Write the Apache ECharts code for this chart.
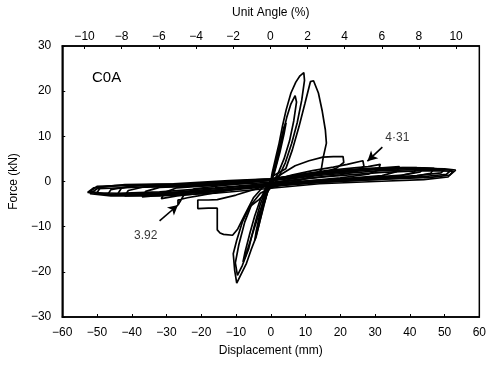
<!DOCTYPE html>
<html><head><meta charset="utf-8">
<script src="https://cdn.jsdelivr.net/npm/echarts@6/dist/echarts.min.js"></script>
<style>html,body{margin:0;padding:0;background:#fff}#c{width:489px;height:367px}</style>
</head><body><div id="c"></div>
<script>
// tick labels
const xTicks = [-60,-50,-40,-30,-20,-10,0,10,20,30,40,50,60];
const yTicks = [-30,-20,-10,0,10,20,30];
const angleTicks = [-10,-8,-6,-4,-2,0,2,4,6,8,10];
const specimen = "C0A";
// hysteresis cycles: [displacement (mm), force (kN)]
const c1 = [[0,0],[0.8,2],[1.6,4.2],[2,5.2],[1.5,3.6],[0.4,0.8],[-0.8,-1.8],[-1.6,-4],[-2,-5],[-1.5,-3.4],[-0.4,-0.6],[0,0]];
const c2 = [[0,0],[1.2,3.5],[2.6,8],[3.8,12],[4.4,13],[3.8,10.5],[2.6,6.4],[1,1.8],[-0.6,-1.6],[-2,-5],[-3.4,-9.6],[-4.6,-13],[-4.2,-11],[-3,-6.6],[-1.4,-2],[0,0]];
const c2b = [[0,0],[1,2.6],[2.2,6.4],[3.4,10.4],[4.6,14.2],[5.8,17.2],[7,19],[7.4,17.6],[6.6,13.4],[5.4,9],[3.8,5],[2,1.6],[0.2,-0.6],[-1.6,-3.4],[-3.6,-7.6],[-5.6,-12.4],[-7.2,-16.4],[-8,-17.8],[-7.4,-15.6],[-6,-11.4],[-4.6,-7.6],[-3,-4],[-1.2,-1],[0,0]];
const c3 = [[0,0],[0.4,1.9],[1.4,5.2],[2.4,8.5],[3.4,12.4],[4.4,15.8],[5.8,19.6],[7.2,22],[8.4,23.4],[9.5,24.1],[9.7,22.4],[8.9,18],[7.6,13],[6,8.4],[4.2,4.2],[2.4,1.2],[0.8,-0.8],[-1,-2.2],[-3.4,-4],[-6.1,-5.6],[-8.2,-9],[-9.8,-13],[-10.8,-16],[-10.4,-19.6],[-9.8,-22.5],[-8.6,-20.6],[-7,-18.1],[-5.6,-15],[-4.2,-12.2],[-3.2,-9],[-2.3,-6.3],[-1.2,-3],[-0.4,-0.4],[0.6,1.2]];
const c4 = [[0.6,1.2],[2.4,2],[4.3,2.8],[6.2,7],[8.1,12.1],[9.8,17.2],[11.4,22.1],[12.3,22.3],[13.7,19.6],[14.8,15.6],[15.7,11.4],[16.2,11],[16,8.5],[15.1,5.4],[14.5,2.5],[12,1.2],[8,0.2],[4,-0.6],[0,-1.4],[-3,-2.6],[-5.5,-5],[-7.5,-9],[-9.2,-14],[-10.2,-18],[-9.6,-20.8],[-8.2,-18.6],[-6.4,-15],[-4.8,-10],[-3,-5],[-1.2,-1.5],[0,0]];
const c5 = [[0,0],[3,1.6],[7,3.5],[11,4.6],[15,5.4],[18,5.5],[20.8,5.5],[21,4.2],[19,3],[16,2.2],[12,1.4],[6,0.6],[0,-0.6],[-5,-1.8],[-10,-3],[-15.4,-4],[-18,-4.1],[-21,-4.1],[-21,-6],[-18,-5.9],[-15.4,-5.9],[-15.4,-8.5],[-15.4,-10.7],[-14.6,-11.4],[-13.6,-11.7],[-11,-11.9],[-9.5,-10.5],[-7.5,-7.4],[-5,-3.6],[-2,-1],[0,0]];
const c6 = [[0,0],[6,1.4],[12,2.4],[18,3.2],[22,3.8],[26.5,4.6],[26.8,3.4],[24.5,2.2],[20,1.5],[14,1],[7,0.3],[0,-0.5],[-7,-1.3],[-14,-2.2],[-21,-3.2],[-24,-3.6],[-26.7,-4.1],[-26.7,-5.2],[-25,-3],[-22,-1.6],[-15,-1],[-7,-0.3],[0,0.4]];
const c7 = [[0,0.4],[8,1.5],[16,2.4],[24,3],[28,3.3],[31.5,3.8],[31,2.6],[28,1.6],[20,0.8],[10,0.1],[0,-0.6],[-10,-1.6],[-20,-2.6],[-27,-3.2],[-31.5,-3.8],[-30.5,-2.4],[-27,-1.4],[-18,-0.9],[-8,-0.2],[0,0.5]];
const c8 = [[0,0.5],[10,1.5],[20,2.4],[30,2.9],[37,3.3],[36.2,2.2],[32,1.3],[22,0.7],[10,0],[0,-0.7],[-12,-1.7],[-24,-2.6],[-32,-3.1],[-37,-3.4],[-36,-2.2],[-32,-1.3],[-20,-0.9],[-8,-0.2],[0,0.4]];
const c9 = [[0,0.4],[12,1.6],[24,2.5],[34,3],[42,3.1],[41.2,2],[36,1.1],[25,0.6],[12,0],[0,-0.8],[-14,-1.9],[-28,-2.7],[-37,-3],[-42,-3.2],[-41,-2],[-36,-1.1],[-24,-0.9],[-10,-0.2],[0,0.3]];
const c10 = [[0,0.3],[14,1.6],[28,2.6],[40,3],[47,2.9],[46,1.8],[40,1],[28,0.5],[14,-0.1],[0,-0.9],[-16,-2],[-32,-2.8],[-42,-3],[-47,-3],[-46,-1.8],[-40,-1],[-26,-0.8],[-12,-0.2],[0,0.3]];
const c11 = [[0,0.3],[15,1.7],[30,2.6],[42,2.9],[50,2.8],[53.2,2.5],[51.5,1.4],[46,0.9],[32,0.5],[16,-0.1],[0,-0.9],[-18,-2],[-34,-2.7],[-46,-2.9],[-52.7,-2.4],[-51,-1.4],[-45,-0.9],[-30,-0.8],[-15,-0.3],[0,0.2]];
const c12 = [[0,0.2],[16,1.5],[32,2.4],[44,2.7],[52,2.6],[50.5,1.6],[44,1.1],[30,0.4],[14,-0.2],[0,-1.1],[-16,-2.2],[-32,-2.9],[-46,-3],[-52,-2.2],[-50,-1.1],[-40,-0.8],[-24,-0.6],[-10,0],[0,0.3]];
const c13 = [[0,0.6],[12,1.9],[26,2.8],[38,3.1],[44,3],[43,2.1],[38,1.4],[26,0.8],[12,0.2],[0,-0.5],[-14,-1.5],[-28,-2.4],[-38,-2.8],[-44,-2.7],[-43,-1.5],[-38,-0.8],[-24,-0.6],[-10,0.1],[0,0.6]];
const c14 = [[0,0.6],[14,2],[30,2.9],[44,3],[50,2.7],[49,1.9],[42,1.3],[28,0.7],[14,0.1],[0,-0.4],[-16,-1.4],[-32,-2.3],[-44,-2.6],[-50,-2.5],[-49,-1.3],[-42,-0.7],[-28,-0.5],[-12,0.2],[0,0.6]];
const c15 = [[0,-0.2],[16,1.1],[32,2],[44,2.4],[52.5,2.3],[51,1],[44,0.4],[30,0],[14,-0.5],[0,-1.5],[-16,-2.6],[-32,-3.2],[-46,-3.2],[-52,-2.7],[-50,-1.6],[-40,-1.3],[-24,-1.1],[-10,-0.6],[0,-0.2]];
const cycles = [c1,c2,c2b,c3,c4,c5,c6,c7,c8,c9,c10,c11,c12,c13,c14,c15];
// annotations: label text, label position, arrow start, arrow end
const notes = [
  {text:"4·31", at:[36.4,9.8], from:[32.1,7.6], to:[27.8,4.5]},
  {text:"3.92", at:[-36,-12], from:[-32,-8.7], to:[-26.7,-5.2]}
];

const minus = v => String(v).replace('-', '\u2212');
const FONT = 'Liberation Sans, Arial, sans-serif';
const chart = echarts.init(document.getElementById('c'), null, {renderer:'canvas'});
const series = cycles.map(c => ({
  type:'line', xAxisIndex:0, yAxisIndex:0, data:c, showSymbol:false, symbol:'none',
  lineStyle:{color:'#000', width:1.7}, animation:false, silent:true
}));
series.push({
  type:'scatter', xAxisIndex:0, yAxisIndex:0, symbolSize:0, animation:false, silent:true,
  data: notes.map(n => ({value:n.at, name:n.text})),
  label:{show:true, position:'inside', formatter:p => p.name, color:'#000', fontFamily:FONT, fontSize:12},
  markLine:{silent:true, animation:false, symbol:['none','arrow'], symbolSize:[8,10],
    lineStyle:{color:'#000', width:1.6, type:'solid'}, label:{show:false},
    data: notes.map(n => [{coord:n.from},{coord:n.to}])}
});
chart.setOption({
  animation:false,
  backgroundColor:'#fff',
  grid:{left:59, right:5, top:46, bottom:50, show:true, borderColor:'#000', borderWidth:1.5, backgroundColor:'transparent'},
  graphic:[{type:'text', left:92, top:70, style:{text:specimen, font:'15px '+FONT, fill:'#000'}}],
  xAxis:[
    {type:'value', position:'bottom', min:-60, max:60, interval:10,
     name:'Displacement (mm)', nameLocation:'middle', nameGap:28,
     nameTextStyle:{fontFamily:FONT, fontSize:12, color:'#000'},
     axisLine:{show:true, onZero:false, lineStyle:{color:'#000', width:1.5}},
     axisTick:{show:true, inside:true, length:3, lineStyle:{color:'#000'}},
     axisLabel:{color:'#000', fontFamily:FONT, fontSize:12, margin:10, formatter:minus},
     splitLine:{show:false}},
    {type:'value', position:'top', min:-11.2, max:11.25,
     name:'Unit Angle (%)', nameLocation:'middle', nameGap:27,
     nameTextStyle:{fontFamily:FONT, fontSize:12, color:'#000'},
     axisLine:{show:true, onZero:false, lineStyle:{color:'#000', width:1.5}},
     axisTick:{show:true, inside:true, length:3, customValues:angleTicks, lineStyle:{color:'#000'}},
     axisLabel:{color:'#000', fontFamily:FONT, fontSize:12, margin:3, customValues:angleTicks, formatter:minus},
     splitLine:{show:false}}
  ],
  yAxis:[
    {type:'value', min:-30, max:30, interval:10,
     name:'Force (kN)', nameLocation:'middle', nameGap:30, nameRotate:90,
     nameTextStyle:{fontFamily:FONT, fontSize:12, color:'#000'},
     axisLine:{show:true, onZero:false, lineStyle:{color:'#000', width:1.5}},
     axisTick:{show:true, inside:true, length:3, lineStyle:{color:'#000'}},
     axisLabel:{color:'#000', fontFamily:FONT, fontSize:12, margin:11, formatter:minus},
     splitLine:{show:false}}
  ],
  series: series
});
</script></body></html>
